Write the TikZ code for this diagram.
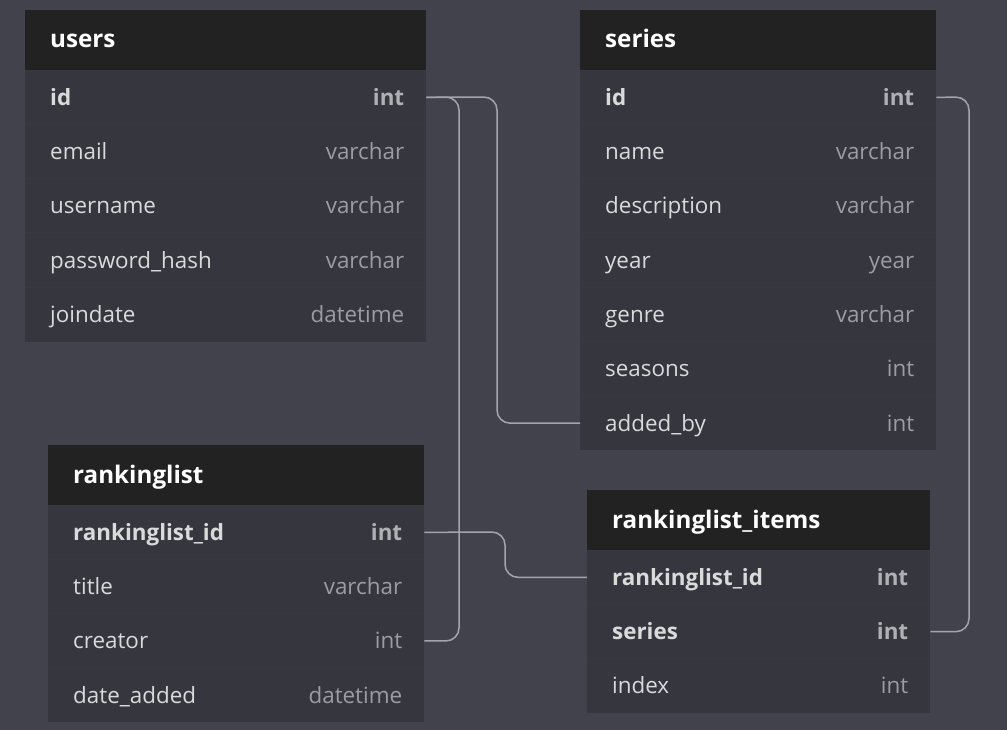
\documentclass[tikz,border=0pt]{standalone}
\usepackage{fontspec}
\setmainfont{Open Sans}
\usetikzlibrary{calc}
\definecolor{bg}{HTML}{42424C}
\definecolor{rowfill}{HTML}{36363F}
\definecolor{rowline}{HTML}{383841}
\definecolor{headfill}{HTML}{222222}
\definecolor{fieldc}{HTML}{DADADA}
\definecolor{typec}{HTML}{9C9CA2}
\definecolor{typeb}{HTML}{B0B0B4}
\definecolor{linkc}{HTML}{A4A4AE}
\tikzset{
  headbox/.style={fill=headfill, inner sep=0pt, minimum height=60pt, anchor=north west},
  rowbox/.style={fill=rowfill, inner sep=0pt, minimum height=54.3pt, anchor=north west},
  headtxt/.style={text=white, font=\fontsize{24.2}{29}\selectfont\bfseries, inner sep=0pt},
  fld/.style={text=fieldc, font=\fontsize{22.4}{27}\selectfont, inner sep=0pt},
  fldb/.style={text=fieldc, font=\fontsize{22.4}{27}\selectfont\bfseries, inner sep=0pt},
  typ/.style={text=typec, font=\fontsize{22.4}{27}\selectfont, inner sep=0pt},
  typb/.style={text=typeb, font=\fontsize{22.4}{27}\selectfont\bfseries, inner sep=0pt},
  link/.style={draw=linkc, line width=1.5pt, rounded corners=13pt},
}
% #1 name, #2 x, #3 y, #4 width, #5 title
\newcommand\dbhead[5]{%
  \node[headbox, minimum width=#4pt] (#1) at (#2,#3) {};
  \node[headtxt, anchor=base west] at ($(#1.north west)+(25,38)$) {#5};
}
% #1 name, #2 x, #3 y, #4 width, #5 field, #6 type, #7 field style, #8 type style
\newcommand\dbrow[8]{%
  \node[rowbox, minimum width=#4pt] (#1) at (#2,#3) {};
  \draw[rowline, line width=0.8pt] (#1.north west) -- (#1.north east);
  \node[#7, anchor=base west] at ($(#1.north west)+(25,35.3)$) {#5};
  \node[#8, anchor=base east] at ($(#1.north east)+(-22,35.3)$) {#6};
}
\begin{document}
\begin{tikzpicture}[x=1pt,y=-1pt]
\fill[bg] (0,0) rectangle (1007,730);
\useasboundingbox (0,0) rectangle (1007,730);
% users
\dbhead{users}{25}{10}{401}{users}
\dbrow{users-id}{25}{70}{401}{id}{int}{fldb}{typb}
\dbrow{users-email}{25}{124.3}{401}{email}{varchar}{fld}{typ}
\dbrow{users-username}{25}{178.6}{401}{username}{varchar}{fld}{typ}
\dbrow{users-pw}{25}{232.9}{401}{password\_hash}{varchar}{fld}{typ}
\dbrow{users-joindate}{25}{287.2}{401}{joindate}{datetime}{fld}{typ}
% series
\dbhead{series}{580}{10}{356}{series}
\dbrow{series-id}{580}{70}{356}{id}{int}{fldb}{typb}
\dbrow{series-name}{580}{124.3}{356}{name}{varchar}{fld}{typ}
\dbrow{series-desc}{580}{178.6}{356}{description}{varchar}{fld}{typ}
\dbrow{series-year}{580}{232.9}{356}{year}{year}{fld}{typ}
\dbrow{series-genre}{580}{287.2}{356}{genre}{varchar}{fld}{typ}
\dbrow{series-seasons}{580}{341.5}{356}{seasons}{int}{fld}{typ}
\dbrow{series-addedby}{580}{395.8}{356}{added\_by}{int}{fld}{typ}
% rankinglist
\dbhead{rl}{48}{445}{376}{rankinglist}
\dbrow{rl-id}{48}{505}{376}{rankinglist\_id}{int}{fldb}{typb}
\dbrow{rl-title}{48}{559.3}{376}{title}{varchar}{fld}{typ}
\dbrow{rl-creator}{48}{613.6}{376}{creator}{int}{fld}{typ}
\dbrow{rl-date}{48}{667.9}{376}{date\_added}{datetime}{fld}{typ}
% rankinglist_items
\dbhead{rli}{587}{490}{343}{rankinglist\_items}
\dbrow{rli-rlid}{587}{550}{343}{rankinglist\_id}{int}{fldb}{typb}
\dbrow{rli-series}{587}{604.3}{343}{series}{int}{fldb}{typb}
\dbrow{rli-index}{587}{658.6}{343}{index}{int}{fld}{typ}
% connectors
\draw[link] (users-id.east) -- (497,97) |- (series-addedby.west);
\draw[link] (users-id.east) -- (459,97) |- (rl-creator.east);
\draw[link] (series-id.east) -- (969,97) |- (rli-series.east);
\draw[link] (rl-id.east) -- (505,532) |- (rli-rlid.west);
\end{tikzpicture}
\end{document}
